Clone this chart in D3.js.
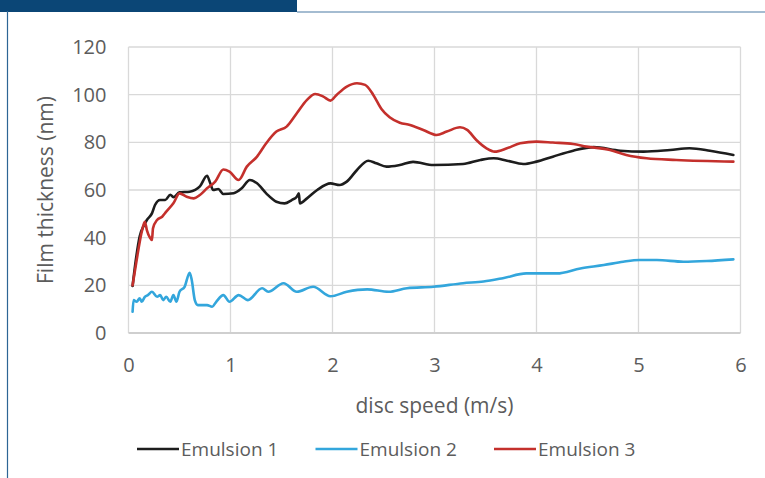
<!DOCTYPE html>
<html>
<head>
<meta charset="utf-8">
<script src="https://cdn.jsdelivr.net/npm/d3@7"></script>
<style>
  html, body { margin: 0; padding: 0; background: #fff; }
  svg { display: block; }
  text { font-family: "Open Sans", sans-serif; fill: #5c5c5c; }
</style>
</head>
<body>
<svg id="chart" width="765" height="478"></svg>
<script>
// Film thickness (nm) against disc speed (m/s)
const xTicks = [0, 1, 2, 3, 4, 5, 6];
const yTicks = [0, 20, 40, 60, 80, 100, 120];
const seriesNames = ["Emulsion 1", "Emulsion 2", "Emulsion 3"];
const seriesColors = ["#1d1d1d", "#33a6dc", "#c4302c"];

const speed1 = [0.04,0.07,0.11,0.15,0.18,0.23,0.26,0.31,0.36,0.41,0.44,0.50,0.60,0.70,0.77,0.80,0.83,0.88,0.93,1.03,1.11,1.19,1.26,1.35,1.45,1.53,1.60,1.65,1.67,1.68,1.75,1.85,1.98,2.07,2.14,2.24,2.35,2.43,2.53,2.66,2.79,2.99,3.28,3.45,3.58,3.71,3.87,4.00,4.16,4.36,4.56,4.82,5.05,5.31,5.50,5.70,5.93];
const film1  = [19.7,30,40.6,45,47.4,50.2,53.7,55.8,55.8,58,57,59,59.3,61.5,66,63,60,60.4,58.3,58.6,60.7,64.2,62.8,58.6,55.1,54.4,55.8,57.2,58.6,54.4,56.5,60,62.8,62.1,63.5,68.4,72.3,71.2,69.8,70.5,71.8,70.5,70.9,72.6,73.3,72.3,70.9,71.9,74,76.5,78,76.5,76.1,76.8,77.5,76.5,74.7];

const speed2 = [0.04,0.05,0.08,0.11,0.13,0.16,0.19,0.23,0.28,0.31,0.34,0.37,0.41,0.44,0.47,0.50,0.55,0.60,0.62,0.65,0.68,0.77,0.82,0.86,0.93,0.99,1.08,1.17,1.31,1.37,1.52,1.65,1.81,1.98,2.14,2.34,2.55,2.73,2.99,3.28,3.48,3.67,3.90,4.20,4.43,4.66,4.85,5.01,5.18,5.44,5.67,5.93];
const film2  = [8.9,13.8,13.1,14.6,13.1,15.2,15.9,17.3,15.2,15.9,13.8,15.2,13.1,15.9,13.1,17.3,19.4,25.3,22.2,13.8,11.7,11.7,11,13.1,15.9,13.1,15.9,13.8,18.8,17.3,20.9,17.3,19.4,15.4,17.3,18.3,17.3,18.8,19.4,20.9,21.6,23,25,25,27.1,28.5,29.9,30.6,30.6,29.9,30.2,30.9];

const speed3 = [0.04,0.08,0.13,0.16,0.18,0.21,0.23,0.24,0.28,0.33,0.37,0.44,0.50,0.57,0.64,0.70,0.77,0.85,0.93,0.99,1.08,1.16,1.26,1.35,1.45,1.55,1.65,1.75,1.83,1.91,1.98,2.04,2.14,2.24,2.32,2.40,2.48,2.56,2.66,2.76,2.89,3.02,3.12,3.25,3.32,3.41,3.51,3.59,3.71,3.84,4.00,4.16,4.36,4.49,4.72,4.88,5.08,5.37,5.93];
const film3  = [20,30.6,42.5,46.7,43.2,40,39,43.9,47.4,48.8,50.9,54.4,58.6,57.2,56.5,57.9,60.7,63.5,68.6,67.7,64.2,69.8,74,79.6,84.5,86.6,92.2,97.8,100.3,99.2,97.5,99.9,103.4,104.8,104.1,99.9,94,90.5,88.2,87.3,85.2,83.1,84.5,86.3,85.2,81,77.5,76.1,77.5,79.6,80.3,79.9,79.3,78.2,76.8,74.7,73.3,72.6,71.9];

const series = [
  { name: seriesNames[0], color: seriesColors[0], pts: d3.zip(speed1, film1) },
  { name: seriesNames[1], color: seriesColors[1], pts: d3.zip(speed2, film2) },
  { name: seriesNames[2], color: seriesColors[2], pts: d3.zip(speed3, film3) }
];

const svg = d3.select("#chart");
svg.append("rect").attr("width", 765).attr("height", 478).attr("fill", "#fff");

// page frame: header tab and border
svg.append("rect").attr("x", 0).attr("y", 0).attr("width", 297).attr("height", 12).attr("fill", "#0b4676");
svg.append("line").attr("x1", 297).attr("x2", 765).attr("y1", 12).attr("y2", 12).attr("stroke", "#4a7ba3").attr("stroke-width", 1.2);
svg.append("line").attr("x1", 7.5).attr("x2", 7.5).attr("y1", 11).attr("y2", 478).attr("stroke", "#2d6595").attr("stroke-width", 1.2);

const x = d3.scaleLinear().domain([0, 6]).range([128.5, 740.5]);
const y = d3.scaleLinear().domain([0, 120]).range([333, 47]);

// gridlines
const grid = svg.append("g");
grid.selectAll("line.v").data(xTicks).join("line")
  .attr("x1", d => x(d)).attr("x2", d => x(d)).attr("y1", y(120)).attr("y2", y(0))
  .attr("stroke", "#d9d9d9").attr("stroke-width", 1.3);
grid.selectAll("line.h").data(yTicks.filter(d => d > 0)).join("line")
  .attr("x1", x(0)).attr("x2", x(6)).attr("y1", d => y(d)).attr("y2", d => y(d))
  .attr("stroke", "#d9d9d9").attr("stroke-width", 1.3);
svg.append("line").attr("x1", x(0)).attr("x2", x(6)).attr("y1", y(0)).attr("y2", y(0))
  .attr("stroke", "#cfcfcf").attr("stroke-width", 1.8);

// axes
const xAxis = svg.append("g").attr("transform", `translate(0,${y(0)})`)
  .call(d3.axisBottom(x).tickValues(xTicks).tickSize(0).tickPadding(25).tickFormat(d3.format("d")));
const yAxis = svg.append("g").attr("transform", `translate(${x(0)},0)`)
  .call(d3.axisLeft(y).tickValues(yTicks).tickSize(0).tickPadding(22).tickFormat(d3.format("d")));
[xAxis, yAxis].forEach(a => {
  a.select(".domain").remove();
  a.selectAll("text").style("font-size", "20px").style("font-family", "'Open Sans', sans-serif").attr("fill", "#5c5c5c");
});

svg.append("text").attr("x", x(3)).attr("y", 413).attr("text-anchor", "middle")
  .style("font-size", "21px").text("disc speed (m/s)");
svg.append("text").attr("transform", `translate(53,${y(60)}) rotate(-90)`).attr("text-anchor", "middle")
  .style("font-size", "21px").text("Film thickness (nm)");

// series lines
const line = d3.line().x(d => x(d[0])).y(d => y(d[1])).curve(d3.curveMonotoneX);
svg.append("g").selectAll("path").data(series).join("path")
  .attr("d", d => line(d.pts))
  .attr("fill", "none").attr("stroke", d => d.color).attr("stroke-width", 2.6)
  .attr("stroke-linejoin", "round").attr("stroke-linecap", "round");

// legend
const legend = svg.append("g").attr("transform", "translate(137,449)");
const item = legend.selectAll("g").data(series).join("g")
  .attr("transform", (d, i) => `translate(${i * 178.5},0)`);
item.append("line").attr("x1", 0).attr("x2", 42).attr("y1", 0).attr("y2", 0)
  .attr("stroke", d => d.color).attr("stroke-width", 2.6);
item.append("text").attr("x", 44).attr("y", 7).style("font-size", "19px").text(d => d.name);
</script>
</body>
</html>
